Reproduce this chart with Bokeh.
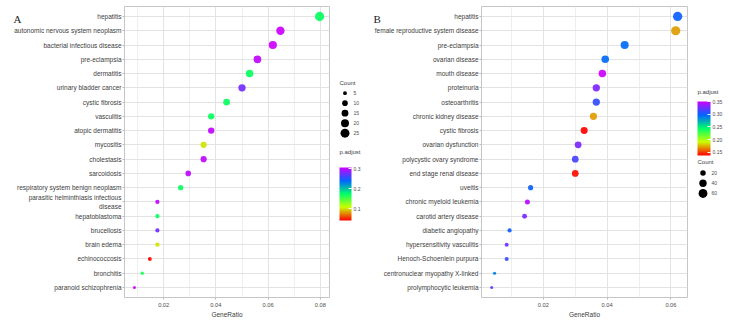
from math import sqrt

from bokeh.core.properties import value
from bokeh.embed import file_html
from bokeh.layouts import row
from bokeh.models import (ColorBar, ColumnDataSource, FactorRange, FixedTicker,
                          Label, LinearColorMapper, PrintfTickFormatter, Range1d)
from bokeh.plotting import figure
from bokeh.resources import INLINE

# ---- Panel A: enriched disease terms -------------------------------------
terms_a = [
    "hepatitis", "autonomic nervous system neoplasm", "bacterial infectious disease",
    "pre-eclampsia", "dermatitis", "urinary bladder cancer", "cystic fibrosis",
    "vasculitis", "atopic dermatitis", "mycositis", "cholestasis", "sarcoidosis",
    "respiratory system benign neoplasm", "parasitic helminthiasis infectious\ndisease",
    "hepatoblastoma", "brucellosis", "brain edema", "echinococcosis", "bronchitis",
    "paranoid schizophrenia",
]
ratio_a = [0.0797, 0.0647, 0.0618, 0.0559, 0.0529, 0.0500, 0.0441, 0.0382, 0.0382,
           0.0353, 0.0353, 0.0294, 0.0265, 0.0176, 0.0176, 0.0176, 0.0176, 0.0147,
           0.0118, 0.0088]
count_a = [27, 22, 21, 19, 18, 17, 15, 13, 13, 12, 12, 10, 9, 6, 6, 6, 6, 5, 4, 3]
padj_a = [0.17, 0.305, 0.305, 0.30, 0.17, 0.275, 0.17, 0.17, 0.30, 0.10, 0.30, 0.30,
          0.17, 0.30, 0.17, 0.275, 0.10, 0.04, 0.165, 0.305]
count_breaks_a = [5, 10, 15, 20, 25]
padj_ticks_a = [0.1, 0.2, 0.3]
xticks_a = [0.02, 0.04, 0.06, 0.08]
xminor_a = [0.01, 0.03, 0.05, 0.07]

# ---- Panel B --------------------------------------------------------------
terms_b = [
    "hepatitis", "female reproductive system disease", "pre-eclampsia", "ovarian disease",
    "mouth disease", "proteinuria", "osteoarthritis", "chronic kidney disease",
    "cystic fibrosis", "ovarian dysfunction", "polycystic ovary syndrome",
    "end stage renal disease", "uveitis", "chronic myeloid leukemia",
    "carotid artery disease", "diabetic angiopathy", "hypersensitivity vasculitis",
    "Henoch-Schoenlein purpura", "centronuclear myopathy X-linked",
    "prolymphocytic leukemia",
]
ratio_b = [0.0621, 0.0615, 0.0455, 0.0394, 0.0385, 0.0366, 0.0366, 0.0357, 0.0328,
           0.0309, 0.0300, 0.0300, 0.0160, 0.0150, 0.0141, 0.0094, 0.0085, 0.0085,
           0.0047, 0.0038]
count_b = [67, 66, 49, 42, 41, 39, 39, 38, 35, 33, 32, 32, 17, 16, 15, 10, 9, 9, 5, 4]
padj_b = [0.30, 0.17, 0.295, 0.295, 0.35, 0.33, 0.31, 0.17, 0.137, 0.33, 0.315, 0.14,
          0.30, 0.345, 0.33, 0.30, 0.325, 0.31, 0.29, 0.32]
count_breaks_b = [20, 40, 60]
padj_ticks_b = [0.15, 0.20, 0.25, 0.30, 0.35]
xticks_b = [0.02, 0.04, 0.06]
xminor_b = [0.01, 0.03, 0.05]

# rainbow colour ramp, low p.adjust = red, high = magenta
ANCHORS = ["#FF0000", "#CCFF00", "#00FF66", "#0066FF", "#CC00FF"]


def ramp(anchors, n=256):
    rgb = [tuple(int(a[i:i + 2], 16) for i in (1, 3, 5)) for a in anchors]
    out = []
    for k in range(n):
        t = k / (n - 1) * (len(rgb) - 1)
        i = min(int(t), len(rgb) - 2)
        f = t - i
        c = [round(rgb[i][j] + (rgb[i + 1][j] - rgb[i][j]) * f) for j in range(3)]
        out.append("#%02x%02x%02x" % tuple(c))
    return out


PALETTE = ramp(ANCHORS)
FONT = "Liberation Sans"
TXT = "#3d3d3d"
TICK_TXT = "#4d4d4d"
FRAME_H = 291
N_PAD = 0.1  # extra factor-units of padding on each end of the category axis


def dot_size(c, cmin, cmax, dmin=3.0, dmax=9.3):
    return dmin + (dmax - dmin) * (sqrt(c) - sqrt(cmin)) / (sqrt(cmax) - sqrt(cmin))


def dot_plot(letter, terms, ratio, count, padj, mapper, x_lo, x_hi, ticks, minor,
             border_left, frame_w, letter_px):
    cmin, cmax = min(count), max(count)
    src = ColumnDataSource(dict(term=terms, ratio=ratio, count=count, padj=padj,
                                size=[dot_size(c, cmin, cmax) for c in count]))
    p = figure(
        x_range=Range1d(x_lo, x_hi),
        y_range=FactorRange(factors=terms[::-1], range_padding=2 * N_PAD,
                            range_padding_units="absolute"),
        frame_width=frame_w, frame_height=FRAME_H,
        min_border_left=border_left, min_border_right=4,
        min_border_top=6, min_border_bottom=23,
        toolbar_location=None, output_backend="svg",
        background_fill_color="white", border_fill_color="white",
        outline_line_color="#c6c6c6", outline_line_width=1,
    )
    p.scatter("ratio", "term", size="size", source=src,
              fill_color={"field": "padj", "transform": mapper},
              line_color=None, fill_alpha=0.92)

    p.xaxis.ticker = FixedTicker(ticks=ticks, minor_ticks=minor)
    p.xgrid.ticker = p.xaxis.ticker
    p.xaxis.formatter = PrintfTickFormatter(format="%.2f")
    p.xaxis.axis_label = "GeneRatio"
    p.xaxis.axis_label_text_font = FONT
    p.xaxis.axis_label_text_font_size = "6.5px"
    p.xaxis.axis_label_text_font_style = "normal"
    p.xaxis.axis_label_text_color = TXT
    p.xaxis.axis_label_standoff = 1

    p.axis.axis_line_color = None
    p.axis.major_tick_line_color = "#b8b8b8"
    p.axis.minor_tick_line_color = None
    p.axis.major_tick_in = 0
    p.axis.major_tick_out = 2
    p.axis.major_label_standoff = 1
    p.axis.major_label_text_font = FONT
    p.xaxis.major_label_text_font_size = "5.7px"
    p.xaxis.major_label_text_color = TICK_TXT
    p.yaxis.major_label_text_font_size = "6.5px"
    p.yaxis.major_label_text_color = TXT

    p.xgrid.grid_line_color = "#e3e3e3"
    p.xgrid.minor_grid_line_color = "#efefef"
    p.ygrid.grid_line_color = "#e3e3e3"

    # panel letter in the left margin, level with the top row
    lx, ly = letter_px  # offsets in px from the frame's top-left corner
    x_per_px = (x_hi - x_lo) / frame_w
    y_top = len(terms) + N_PAD
    y_per_px = (len(terms) + 2 * N_PAD) / FRAME_H
    p.add_layout(Label(x=x_lo + lx * x_per_px, y=y_top - ly * y_per_px,
                       text=letter, text_font="Liberation Serif",
                       text_font_size="11px", text_color="#222222",
                       text_baseline="alphabetic"), "left")
    return p


def key_fig(width, mapper, padj_ticks, fmt, bar_x, bar_top, bar_h, bar_w,
            padj_title_y, count_breaks, count_range, count_title_y, count_y0,
            count_step):
    p = figure(width=width, height=320, x_range=Range1d(0, width),
               y_range=Range1d(320, 0), x_axis_type=None, y_axis_type=None,
               toolbar_location=None, output_backend="svg", min_border=0,
               outline_line_color=None, background_fill_color="white",
               border_fill_color="white")
    p.grid.visible = False

    # colour key
    p.add_layout(Label(x=bar_x, y=padj_title_y, text="p.adjust", text_font=FONT,
                       text_font_size="6px", text_color=TXT,
                       text_baseline="middle"))
    cb = ColorBar(color_mapper=mapper, ticker=FixedTicker(ticks=padj_ticks),
                  formatter=PrintfTickFormatter(format=fmt),
                  width=bar_w, height=bar_h,
                  location=(bar_x, 320 - bar_top - bar_h - 22),
                  padding=0, margin=0, title=None,
                  major_label_text_font=FONT, major_label_text_font_size="5px",
                  major_label_text_color=TICK_TXT, label_standoff=2,
                  major_tick_line_color="white", major_tick_in=3, major_tick_out=0,
                  minor_tick_line_color=None, bar_line_color=None,
                  background_fill_alpha=0, border_line_color=None)
    p.add_layout(cb)

    # size key
    p.add_layout(Label(x=bar_x, y=count_title_y, text="Count", text_font=FONT,
                       text_font_size="6px", text_color=TXT,
                       text_baseline="middle"))
    cmin, cmax = count_range
    ys = [count_y0 + i * count_step for i in range(len(count_breaks))]
    src = ColumnDataSource(dict(
        x=[bar_x + 5.5] * len(count_breaks), lx=[bar_x + 14] * len(count_breaks),
        y=ys, size=[dot_size(c, cmin, cmax) for c in count_breaks],
        label=[str(c) for c in count_breaks]))
    p.scatter("x", "y", size="size", source=src, fill_color="black", line_color=None)
    p.text("lx", "y", text="label", source=src, text_font=value(FONT),
           text_font_size="5px", text_color=TICK_TXT, text_baseline="middle")
    return p


mapper_a = LinearColorMapper(palette=PALETTE, low=min(padj_a), high=max(padj_a))
mapper_b = LinearColorMapper(palette=PALETTE, low=min(padj_b), high=max(padj_b))

fig_a = dot_plot("A", terms_a, ratio_a, count_a, padj_a, mapper_a, 0.005, 0.0835,
                 xticks_a, xminor_a, 124, 205, (-111, 11))
key_a = key_fig(31, mapper_a, padj_ticks_a, "%.1f", 6, 168, 53, 12, 160.5,
                count_breaks_a, (min(count_a), max(count_a)), 84.3, 95.3, 11)

fig_b = dot_plot("B", terms_b, ratio_b, count_b, padj_b, mapper_b, 0.0006, 0.0652,
                 xticks_b, xminor_b, 117, 206, (-108, 11))
key_b = key_fig(38, mapper_b, padj_ticks_b, "%.2f", 6, 102, 54, 13, 94,
                count_breaks_b, (min(count_b), max(count_b)), 170.7, 183, 11.3)

layout = row(fig_a, key_a, fig_b, key_b)
open("out.html", "w").write(file_html(layout, INLINE))
